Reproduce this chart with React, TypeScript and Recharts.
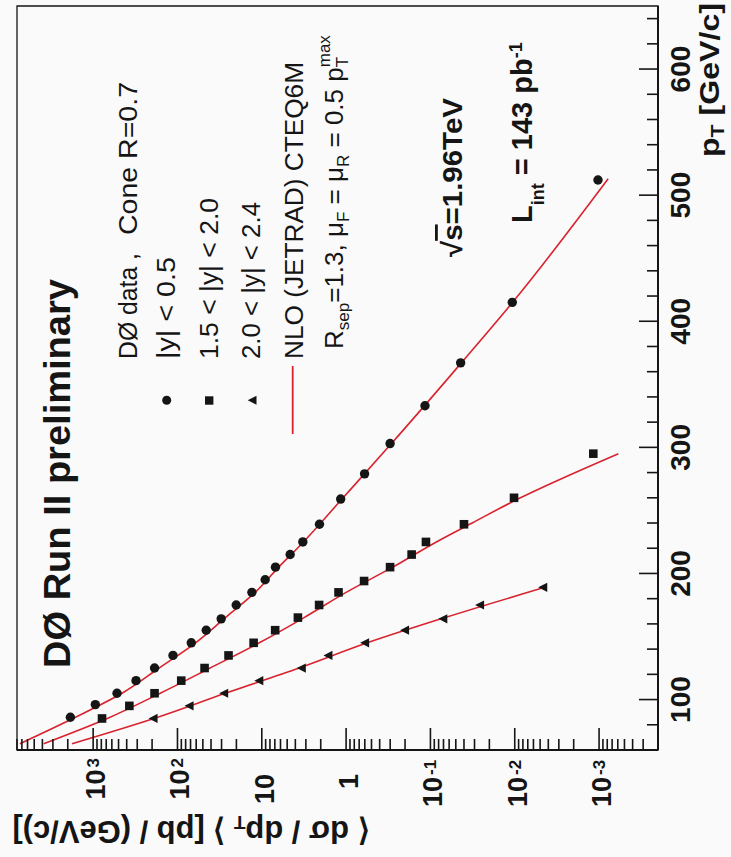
import React from 'react';
import { ComposedChart, Line, Scatter, XAxis, YAxis, ReferenceArea } from 'recharts';

// |y| < 0.5 data
const centralPt = [86, 96, 105, 115, 125, 135, 145, 155, 164, 175, 185, 195, 205, 215, 225, 239, 259, 279, 303, 333, 367, 415, 512];
const centralXs = [1862, 942, 521, 310, 187, 113, 68.6, 45.6, 30.3, 20.1, 13.1, 9.12, 6.88, 4.61, 3.26, 2.07, 1.16, 0.604, 0.301, 0.116, 0.0438, 0.0107, 0.00103];
// 1.5 < |y| < 2.0 data
const midPt = [85, 95, 105, 115, 125, 135, 145, 155, 165, 175, 185, 194, 205, 215, 225, 239, 260, 295];
const midXs = [785, 372, 187, 90.2, 47.7, 24.8, 12.5, 6.94, 3.73, 2.09, 1.23, 0.612, 0.301, 0.167, 0.113, 0.04, 0.0102, 0.00117];
// 2.0 < |y| < 2.4 data
const fwdPt = [85, 95, 105, 115, 125, 135, 145, 155, 164, 175, 189];
const fwdXs = [192, 71.9, 27.9, 10.7, 3.35, 1.62, 0.595, 0.2, 0.0703, 0.0258, 0.00459];

// NLO (JETRAD) curves
const centralNloPt = [65, 86, 105, 125, 145, 165, 185, 205, 225, 259, 303, 367, 415, 513];
const centralNloXs = [7400, 1620, 455, 165, 61, 27, 12.0, 6.3, 3.2, 1.12, 0.29, 0.043, 0.0106, 0.00078];
const midNloPt = [65, 85, 105, 125, 145, 165, 185, 205, 225, 240, 259, 295];
const midNloXs = [3860, 680, 160, 41, 10.7, 3.15, 1.0, 0.28, 0.085, 0.032, 0.0092, 0.00059];
const fwdNloPt = [65, 85, 105, 125, 145, 165, 189];
const fwdNloXs = [1780, 190, 27, 3.6, 0.56, 0.067, 0.0044];

// axes
const ptTicks = [60, 80, 100, 120, 140, 160, 180, 200, 220, 240, 260, 280, 300, 320, 340, 360, 380, 400, 420, 440, 460, 480, 500, 520, 540, 560, 580, 600, 620, 640];
const ptLabels = [100, 200, 300, 400, 500, 600];
const sigmaDecades = [-4, -3, -2, -1, 0, 1, 2, 3];
const sigmaMinor = [1, 2, 3, 4, 5, 6, 7, 8, 9];
const sigmaLabelValues = [1000, 100, 10, 1, 0.1, 0.01, 0.001];
const sigmaLabelBase = ['10', '10', '10', '1', '10', '10', '10'];
const sigmaLabelExp = ['3', '2', '', '', '-1', '-2', '-3'];

const PT_MIN = 60;
const PT_MAX = 650;
const SIGMA_MIN = 2e-4;
const SIGMA_MAX = 8e3;

const W = 857;
const H = 731;
const INK = '#151515';
const RED = '#d8232e';
const FONT = '"Liberation Sans", Arial, Helvetica, sans-serif';

const sigmaTicks = sigmaDecades
	.flatMap((d) => sigmaMinor.map((m) => m * Math.pow(10, d)))
	.filter((v) => v >= SIGMA_MIN && v <= SIGMA_MAX);

const toPoints = (pt: number[], xs: number[]) => pt.map((p, i) => ({ pt: p, s: xs[i] }));

const centralData = toPoints(centralPt, centralXs);
const midData = toPoints(midPt, midXs);
const fwdData = toPoints(fwdPt, fwdXs);
const centralNlo = toPoints(centralNloPt, centralNloXs);
const midNlo = toPoints(midNloPt, midNloXs);
const fwdNlo = toPoints(fwdNloPt, fwdNloXs);

const Dot = (props: any) => <circle cx={props.cx} cy={props.cy} r={4.7} fill={INK} />;
const Box = (props: any) => <rect x={props.cx - 4.3} y={props.cy - 4.3} width={8.6} height={8.6} fill={INK} />;
const Tri = (props: any) => (
	<polygon
		points={`${props.cx},${props.cy - 5} ${props.cx - 4.6},${props.cy + 4} ${props.cx + 4.6},${props.cy + 4}`}
		fill={INK}
	/>
);

const PtTick = (props: any) => {
	const { x, y, payload } = props;
	const major = ptLabels.includes(payload.value);
	return (
		<g>
			<line x1={x} x2={x} y1={y} y2={y - (major ? 19 : 11)} stroke={INK} strokeWidth={1.6} />
			{major && (
				<text x={x} y={y + 32} textAnchor="middle" fontSize={28} fontWeight="bold" fill={INK} fontFamily={FONT}>
					{payload.value}
				</text>
			)}
		</g>
	);
};

// labels of the cross-section axis: base right-aligned, exponent raised after it
const SigmaTick = (props: any) => {
	const { x, y, payload } = props;
	const lg = Math.log10(payload.value);
	const major = Math.abs(lg - Math.round(lg)) < 1e-6;
	const idx = sigmaLabelValues.findIndex((s) => Math.abs(Math.log10(s) - lg) < 1e-6);
	const exp = idx >= 0 ? sigmaLabelExp[idx] : '';
	const baseEnd = exp ? x - 12 - exp.length * 7.5 : x - 24;
	return (
		<g>
			<line x1={x} x2={x + (major ? 22 : 11)} y1={y} y2={y} stroke={INK} strokeWidth={1.6} />
			{idx >= 0 && (
				<text x={baseEnd} y={y + 12} textAnchor="end" fontSize={27} fontWeight="bold" fill={INK} fontFamily={FONT}>
					{sigmaLabelBase[idx]}
				</text>
			)}
			{exp && (
				<text x={baseEnd + 2} y={y + 6} textAnchor="start" fontSize={17} fontWeight="bold" fill={INK} fontFamily={FONT}>
					{exp}
				</text>
			)}
		</g>
	);
};

const Overlay = () => (
	<svg
		width={W}
		height={H}
		style={{ position: 'absolute', left: 0, top: 0, pointerEvents: 'none' }}
		fontFamily={FONT}
		fill={INK}
	>
		<text x={189} y={70} fontSize={36} fontWeight="bold" textLength={389} lengthAdjust="spacingAndGlyphs">
			DØ Run II preliminary
		</text>

		<text x={498} y={137} fontSize={26} textLength={106} lengthAdjust="spacingAndGlyphs">DØ data ,</text>
		<text x={622} y={137} fontSize={26} textLength={153} lengthAdjust="spacingAndGlyphs">Cone R=0.7</text>
		<circle cx={456.7} cy={166.7} r={4.5} fill={INK} />
		<text x={498} y={175} fontSize={26} textLength={102} lengthAdjust="spacingAndGlyphs">|y| &lt; 0.5</text>
		<rect x={452.3} y={205} width={8.4} height={8.4} fill={INK} />
		<text x={498} y={218} fontSize={26} textLength={161} lengthAdjust="spacingAndGlyphs">1.5 &lt; |y| &lt; 2.0</text>
		<polygon points="456.7,247.7 452.2,256.5 461.2,256.5" fill={INK} />
		<text x={498} y={260} fontSize={26} textLength={157} lengthAdjust="spacingAndGlyphs">2.0 &lt; |y| &lt; 2.4</text>
		<line x1={423} x2={491} y1={292.7} y2={292.7} stroke={RED} strokeWidth={1.8} />
		<text x={498} y={303} fontSize={26} textLength={297} lengthAdjust="spacingAndGlyphs">NLO (JETRAD) CTEQ6M</text>
		<text x={508} y={343} fontSize={26}>
			R<tspan fontSize={17} dy={6}>sep</tspan>
			<tspan dy={-6}>=1.3,  μ</tspan>
			<tspan fontSize={17} dy={6}>F</tspan>
			<tspan dy={-6}> = μ</tspan>
			<tspan fontSize={17} dy={6}>R</tspan>
			<tspan dy={-6}> = 0.5 p</tspan>
			<tspan fontSize={17} dy={5}>T</tspan>
			<tspan fontSize={17} dx={-10.4} dy={-18}>max</tspan>
		</text>

		<text x={600} y={462} fontSize={28} fontWeight="bold" textLength={159} lengthAdjust="spacingAndGlyphs">
			√<tspan style={{ textDecoration: 'overline' }}>s</tspan>=1.96TeV
		</text>
		<text x={634} y={532} fontSize={29} fontWeight="bold">
			L<tspan fontSize={18} dy={12}>int</tspan>
			<tspan dy={-12}> = 143 pb</tspan>
			<tspan fontSize={18} dy={-10}>-1</tspan>
		</text>
		<text x={700} y={719} fontSize={27} fontWeight="bold" textLength={154} lengthAdjust="spacingAndGlyphs">
			p<tspan fontSize={18} dy={5}>T</tspan>
			<tspan dy={-5}> [GeV/c]</tspan>
		</text>
		<text
			x={36}
			y={191}
			transform="rotate(-90 36 191)"
			textAnchor="middle"
			fontSize={31}
			fontWeight="bold"
			textLength={357}
			lengthAdjust="spacingAndGlyphs"
		>
			⟨ dσ / dp<tspan fontSize={19} dy={5}>T</tspan>
			<tspan dy={-5}> ⟩  [pb / (GeV/c)]</tspan>
		</text>
	</svg>
);

export default function App() {
	return (
		<div
			style={{
				position: 'absolute',
				left: 0,
				top: 0,
				width: H,
				height: W,
				overflow: 'hidden',
				background: '#fafafa',
			}}
		>
			<div
				style={{
					position: 'absolute',
					left: 0,
					top: 0,
					width: W,
					height: H,
					transformOrigin: '0 0',
					transform: `translateY(${W}px) rotate(-90deg)`,
				}}
			>
				<div style={{ position: 'absolute', left: 0, top: 0 }}>
					<ComposedChart width={W} height={H} margin={{ top: 17, right: 6, bottom: 0, left: 0 }}>
						<XAxis
							type="number"
							dataKey="pt"
							domain={[PT_MIN, PT_MAX]}
							allowDataOverflow
							ticks={ptTicks}
							interval={0}
							height={73}
							tickSize={0}
							tickMargin={0}
							tickLine={false}
							axisLine={{ stroke: INK, strokeWidth: 2 }}
							tick={<PtTick />}
						/>
						<YAxis
							type="number"
							dataKey="s"
							scale="log"
							domain={[SIGMA_MIN, SIGMA_MAX]}
							allowDataOverflow
							ticks={sigmaTicks}
							interval={0}
							width={107}
							tickSize={0}
							tickMargin={0}
							tickLine={false}
							axisLine={{ stroke: INK, strokeWidth: 2 }}
							tick={<SigmaTick />}
						/>
						<ReferenceArea
							x1={PT_MIN}
							x2={PT_MAX}
							y1={SIGMA_MIN}
							y2={SIGMA_MAX}
							fill="none"
							fillOpacity={0}
							stroke={INK}
							strokeWidth={1.3}
							ifOverflow="visible"
						/>
						<Line data={centralNlo} dataKey="s" type="monotone" stroke={RED} strokeWidth={1.6} dot={false} isAnimationActive={false} />
						<Line data={midNlo} dataKey="s" type="monotone" stroke={RED} strokeWidth={1.6} dot={false} isAnimationActive={false} />
						<Line data={fwdNlo} dataKey="s" type="monotone" stroke={RED} strokeWidth={1.6} dot={false} isAnimationActive={false} />
						<Scatter data={centralData} dataKey="s" shape={Dot} isAnimationActive={false} />
						<Scatter data={midData} dataKey="s" shape={Box} isAnimationActive={false} />
						<Scatter data={fwdData} dataKey="s" shape={Tri} isAnimationActive={false} />
					</ComposedChart>
				</div>
				<Overlay />
			</div>
		</div>
	);
}
